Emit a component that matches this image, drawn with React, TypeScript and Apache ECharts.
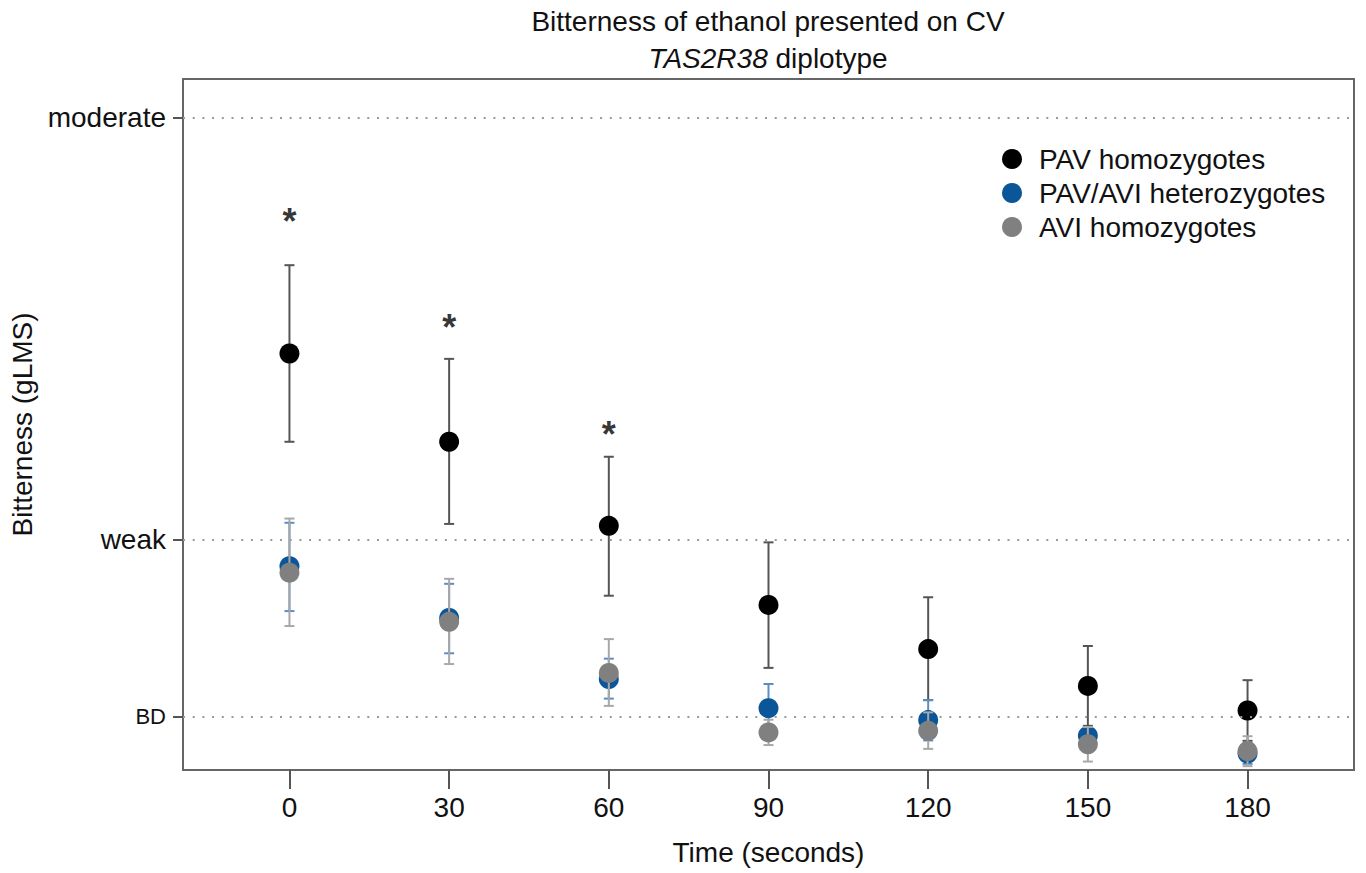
import React, { useEffect, useRef } from "react";
import * as echarts from "echarts";

const times = [0, 30, 60, 90, 120, 150, 180];
const xTickValues = [0, 30, 60, 90, 120, 150, 180];
const yTickValues = [1.4, 6, 17];
const yTickLabels = ["BD", "weak", "moderate"];
const refLines = [1.4, 6, 17];

const seriesNames = ["PAV homozygotes", "PAV/AVI heterozygotes", "AVI homozygotes"];

const pavMean = [10.85, 8.55, 6.36, 4.3, 3.15, 2.19, 1.55];
const pavLow = [8.55, 6.41, 4.54, 2.66, 1.82, 1.15, 0.76];
const pavHigh = [13.15, 10.71, 8.16, 5.93, 4.5, 3.23, 2.34];

const hetMean = [5.31, 3.96, 2.37, 1.61, 1.3, 0.89, 0.43];
const hetLow = [4.14, 3.04, 1.86, 0.98, 0.77, 0.66, 0.16];
const hetHigh = [6.44, 4.85, 2.9, 2.24, 1.82, 1.12, 0.7];

const aviMean = [5.14, 3.86, 2.53, 0.98, 1.02, 0.67, 0.49];
const aviLow = [3.75, 2.76, 1.67, 0.65, 0.55, 0.22, 0.1];
const aviHigh = [6.55, 4.98, 3.41, 1.31, 1.5, 1.12, 0.88];

const starTimes = [0, 30, 60];
const starValues = [14.46, 11.7, 8.93];

const FONT = "'Liberation Sans', Arial, Helvetica, sans-serif";

export default function App() {
  const ref = useRef<HTMLDivElement>(null);

  useEffect(() => {
    if (!ref.current) return;
    const chart = echarts.init(ref.current, null, { renderer: "svg" });

    const errSeries = (
      name: string,
      low: number[],
      high: number[],
      color: string,
      z: number
    ) => ({
      type: "custom",
      name: name + " error",
      z,
      data: times.map((t, i) => [t, low[i], high[i]]),
      encode: { x: 0, y: [1, 2] },
      renderItem: (params: any, api: any) => {
        const x = api.value(0);
        const pLo = api.coord([x, api.value(1)]);
        const pHi = api.coord([x, api.value(2)]);
        const w = 5;
        const style = { stroke: color, lineWidth: 2 };
        return {
          type: "group",
          children: [
            { type: "line", shape: { x1: pHi[0], y1: pHi[1], x2: pLo[0], y2: pLo[1] }, style },
            { type: "line", shape: { x1: pHi[0] - w, y1: pHi[1], x2: pHi[0] + w, y2: pHi[1] }, style },
            { type: "line", shape: { x1: pLo[0] - w, y1: pLo[1], x2: pLo[0] + w, y2: pLo[1] }, style },
          ],
        };
      },
      silent: true,
    });

    const dotSeries = (name: string, mean: number[], color: string, z: number) => ({
      type: "scatter",
      name,
      z,
      symbol: "circle",
      symbolSize: 20,
      itemStyle: { color, opacity: 1 },
      data: times.map((t, i) => [t, mean[i]]),
    });

    const option: any = {
      animation: false,
      backgroundColor: "#ffffff",
      textStyle: { fontFamily: FONT },
      title: {
        left: 768,
        top: 3,
        padding: 0,
        textAlign: "center",
        text: "{a|Bitterness of ethanol presented on CV}\n{i|TAS2R38}{a| diplotype}",
        textStyle: {
          fontWeight: "normal",
          rich: {
            a: { fontSize: 28, fontFamily: FONT, color: "#111", fontWeight: "normal", lineHeight: 37 },
            i: { fontSize: 28, fontFamily: FONT, color: "#111", fontWeight: "normal", fontStyle: "italic", lineHeight: 37 },
          },
        },
      },
      legend: {
        orient: "vertical",
        left: 997,
        top: 140,
        itemWidth: 44,
        itemHeight: 20,
        itemGap: 6,
        icon: "circle",
        data: seriesNames,
        textStyle: { fontSize: 28, color: "#111", fontFamily: FONT, lineHeight: 28 },
        selectedMode: false,
      },
      grid: {
        left: 183,
        right: 12,
        top: 79,
        bottom: 103,
        show: true,
        borderColor: "#666",
        borderWidth: 2,
        containLabel: false,
        outerBoundsMode: "none",
      },
      xAxis: {
        type: "value",
        min: -20,
        max: 200,
        name: "Time (seconds)",
        nameLocation: "middle",
        nameGap: 68,
        nameTextStyle: { fontSize: 28, color: "#111", fontFamily: FONT },
        axisLine: { show: true, onZero: false, lineStyle: { color: "#666", width: 2 } },
        axisTick: { show: true, length: 19, customValues: xTickValues, lineStyle: { color: "#555", width: 2 } },
        axisLabel: { customValues: xTickValues, margin: 23, fontSize: 28, color: "#111", fontFamily: FONT },
        splitLine: { show: false },
      },
      yAxis: {
        type: "value",
        min: 0,
        max: 18,
        name: "Bitterness (gLMS)",
        nameLocation: "middle",
        nameGap: 136,
        nameTextStyle: { fontSize: 28, color: "#111", fontFamily: FONT },
        axisLine: { show: true, onZero: false, lineStyle: { color: "#666", width: 2 } },
        axisTick: { show: true, length: 10, customValues: yTickValues, lineStyle: { color: "#555", width: 2 } },
        axisLabel: {
          customValues: yTickValues,
          margin: 17,
          fontSize: 28,
          color: "#111",
          fontFamily: FONT,
          formatter: (v: number) => {
            let idx = 0;
            let best = Infinity;
            yTickValues.forEach((tv, i) => {
              const d = Math.abs(tv - v);
              if (d < best) {
                best = d;
                idx = i;
              }
            });
            const lbl = yTickLabels[idx];
            return lbl === "BD" ? "{s|" + lbl + "}" : lbl;
          },
          rich: { s: { fontSize: 22, color: "#111", fontFamily: FONT } },
        },
        splitLine: { show: false },
      },
      series: [
        {
          type: "line",
          name: "ref",
          data: [],
          z: 1,
          markLine: {
            silent: true,
            symbol: "none",
            label: { show: false },
            lineStyle: { color: "#999", width: 2, type: [2, 7.7], cap: "butt" },
            data: refLines.map((v) => ({ yAxis: v })),
          },
        },
        errSeries(seriesNames[0], pavLow, pavHigh, "#555555", 2),
        dotSeries(seriesNames[0], pavMean, "#000000", 3),
        errSeries(seriesNames[1], hetLow, hetHigh, "#5b8ec4", 4),
        dotSeries(seriesNames[1], hetMean, "#0a5699", 5),
        errSeries(seriesNames[2], aviLow, aviHigh, "#a8a8a8", 6),
        dotSeries(seriesNames[2], aviMean, "#808080", 7),
        {
          type: "scatter",
          name: "sig",
          z: 8,
          symbolSize: 1,
          itemStyle: { color: "rgba(0,0,0,0)" },
          data: starTimes.map((t, i) => [t, starValues[i]]),
          label: {
            show: true,
            position: "inside",
            formatter: "*",
            fontSize: 36,
            fontWeight: "bold",
            color: "#000",
            fontFamily: FONT,
            offset: [0, 7],
          },
          silent: true,
        },
      ],
    };

    chart.setOption(option);
    return () => chart.dispose();
  }, []);

  return (
    <div
      ref={ref}
      style={{ position: "fixed", left: 0, top: 0, width: 1366, height: 873, background: "#fff" }}
    />
  );
}
